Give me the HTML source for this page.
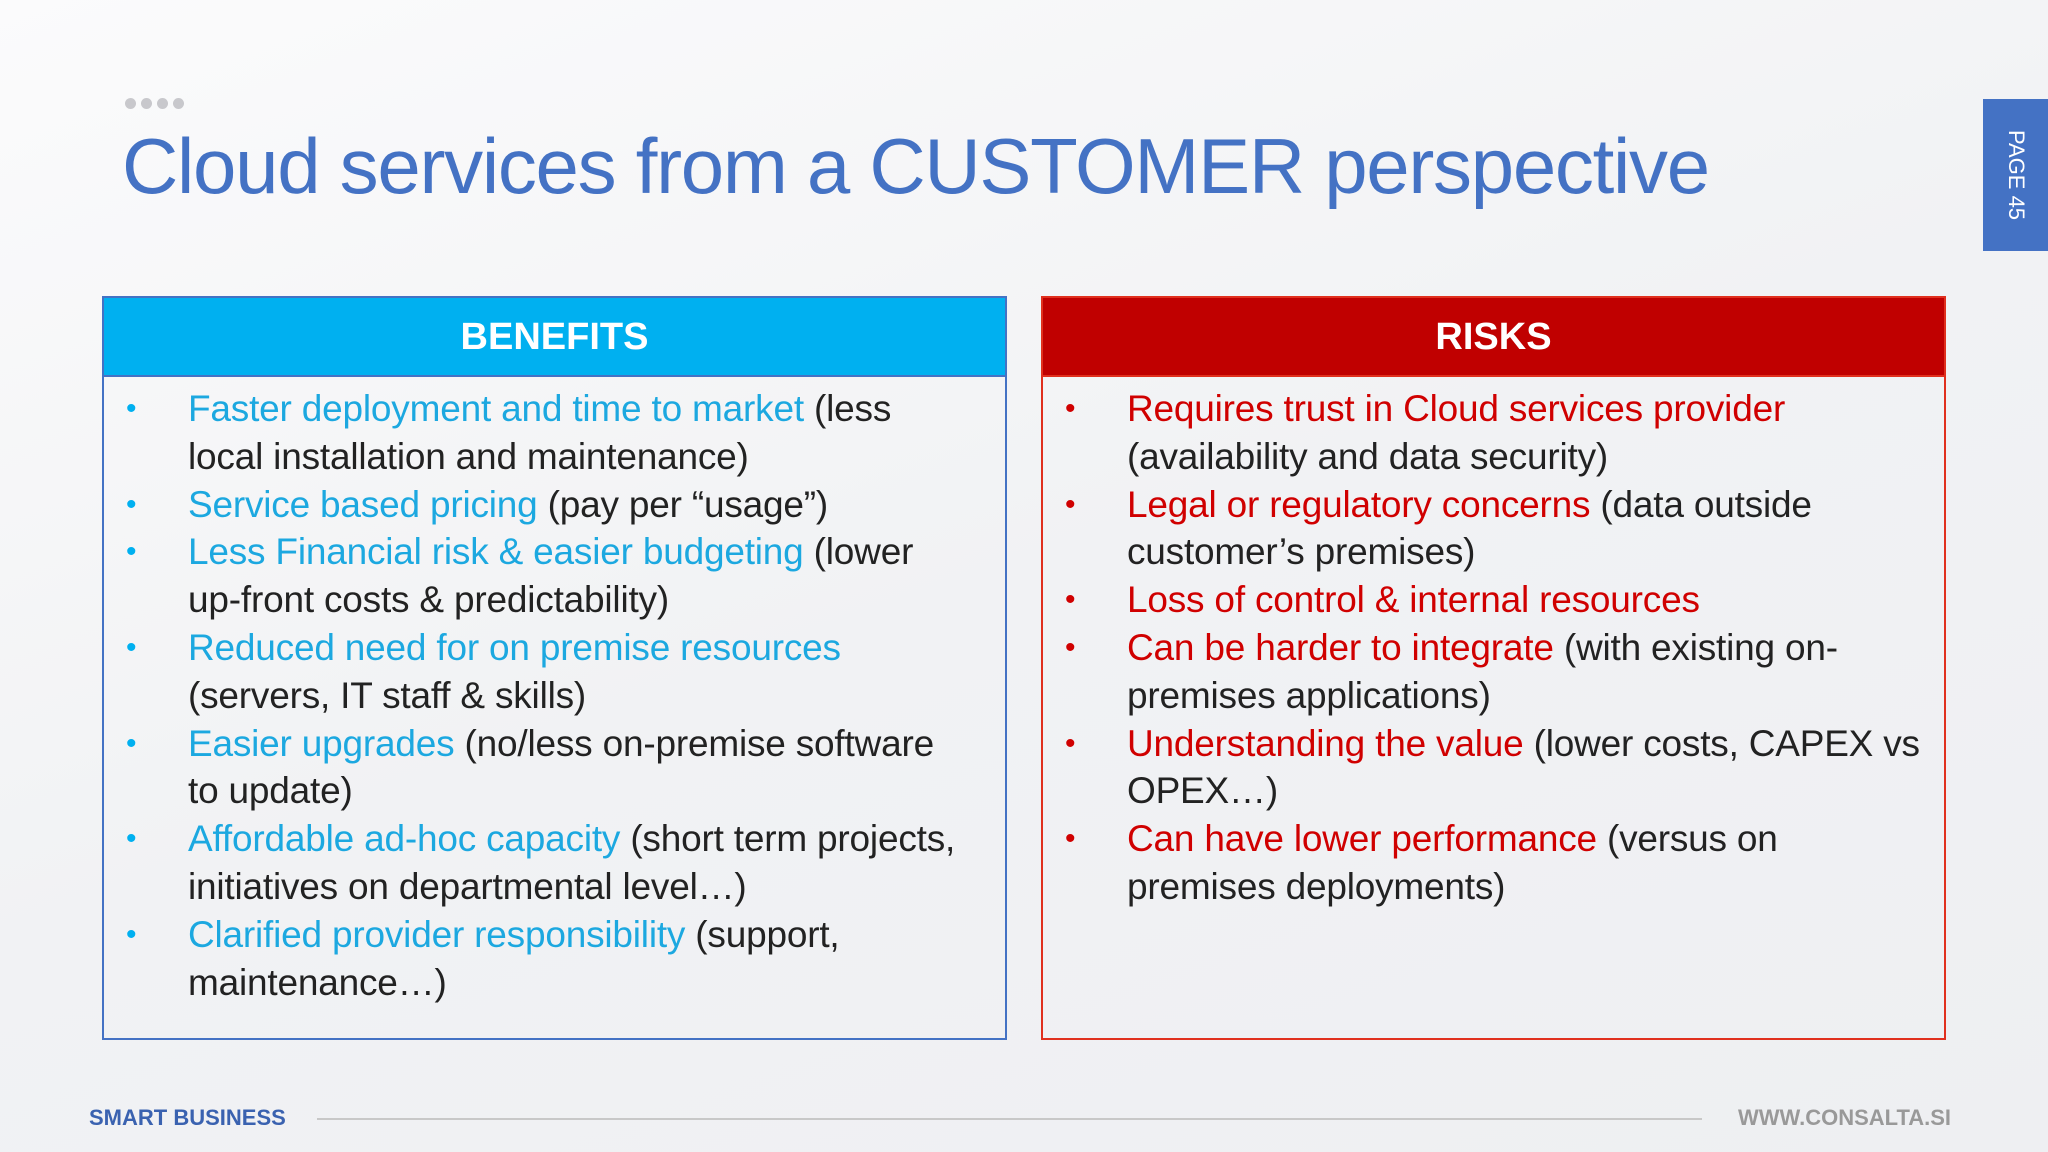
<!DOCTYPE html>
<html><head><meta charset="utf-8"><style>
*{margin:0;padding:0;box-sizing:border-box}
body{width:2048px;height:1152px;overflow:hidden;position:relative;background:linear-gradient(160deg,#fbfbfc 0%,#f1f2f4 50%,#eeeff2 100%);font-family:"Liberation Sans",sans-serif}
.dots{position:absolute;left:125px;top:96px}
.dots span{display:inline-block;width:11px;height:11px;border-radius:50%;background:#c8c8cc;margin-right:5px}
h1{position:absolute;left:122px;top:121px;font-weight:normal;font-size:78px;color:#4472c4;white-space:nowrap;letter-spacing:-1.3px}
.tab{position:absolute;left:1983px;top:99px;width:65px;height:152px;background:#4472c4}
.tab span{position:absolute;left:50%;top:50%;transform:translate(-50%,-50%) rotate(90deg);color:#fff;font-size:22px;white-space:nowrap}
.box{position:absolute;top:296px;width:905px;height:744px;border:2px solid}
.b{left:102px;border-color:#4472c4}
.r{left:1041px;border-color:#e0301e}
.hd{height:79px;color:#fff;font-size:38px;font-weight:bold;text-align:center;line-height:79px}
.b .hd{background:#00b0f0;border-bottom:2px solid #4472c4}
.r .hd{background:#c00000;border-bottom:2px solid #e0301e}
ul{list-style:none;padding-top:8px}
li{position:relative;padding-left:84px;font-size:37px;line-height:47.8px;color:#222;white-space:nowrap;letter-spacing:-0.2px}
li:before{content:"•";position:absolute;left:22px;font-size:30px}
.b li:before{color:#00b0f0}.r li:before{color:#d00000}
.b em{font-style:normal;color:#1ca8e0}.r em{font-style:normal;color:#d00000}
.ft{position:absolute;top:1105px;font-size:22px;font-weight:bold}
.line{position:absolute;left:317px;top:1118px;width:1385px;height:2px;background:#c8c8c8}
</style></head><body>
<div class="dots"><span></span><span></span><span></span><span></span></div>
<h1>Cloud services from a CUSTOMER perspective</h1>
<div class="tab"><span>PAGE 45</span></div>
<div class="box b"><div class="hd">BENEFITS</div><ul>
<li><em>Faster deployment and time to market</em> (less<br>local installation and maintenance)</li>
<li><em>Service based pricing</em> (pay per “usage”)</li>
<li><em>Less Financial risk &amp; easier budgeting</em> (lower<br>up-front costs &amp; predictability)</li>
<li><em>Reduced need for on premise resources</em><br>(servers, IT staff &amp; skills)</li>
<li><em>Easier upgrades</em> (no/less on-premise software<br>to update)</li>
<li><em>Affordable ad-hoc capacity</em> (short term projects,<br>initiatives on departmental level…)</li>
<li><em>Clarified provider responsibility</em> (support,<br>maintenance…)</li>
</ul></div>
<div class="box r"><div class="hd">RISKS</div><ul>
<li><em>Requires trust in Cloud services provider</em><br>(availability and data security)</li>
<li><em>Legal or regulatory concerns</em> (data outside<br>customer’s premises)</li>
<li><em>Loss of control &amp; internal resources</em></li>
<li><em>Can be harder to integrate</em> (with existing on-<br>premises applications)</li>
<li><em>Understanding the value</em> (lower costs, CAPEX vs<br>OPEX…)</li>
<li><em>Can have lower performance</em> (versus on<br>premises deployments)</li>
</ul></div>
<div class="ft" style="left:89px;color:#3a62b0">SMART BUSINESS</div>
<div class="line"></div>
<div class="ft" style="left:1738px;color:#999">WWW.CONSALTA.SI</div>
</body></html>
